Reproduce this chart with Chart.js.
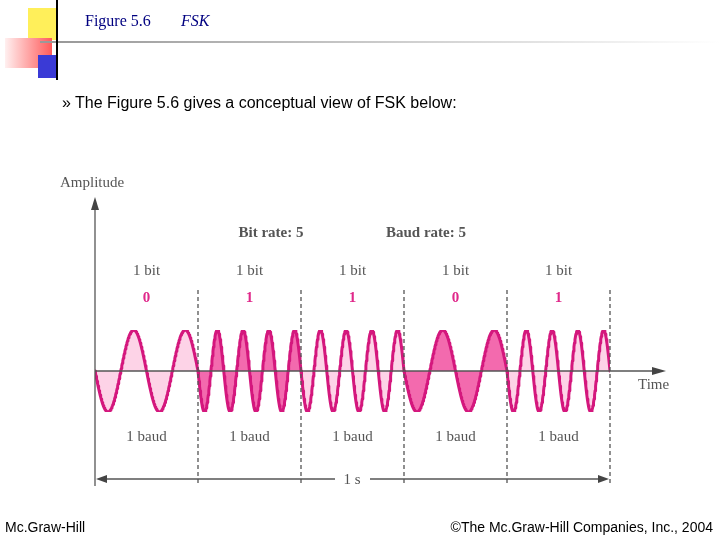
<!DOCTYPE html>
<html><head><meta charset="utf-8">
<script src="https://cdn.jsdelivr.net/npm/chart.js"></script>
<style>
body{margin:0;width:720px;height:540px;position:relative;background:#fff;overflow:hidden;font-family:"Liberation Sans",Arial,sans-serif}
.t{position:absolute;white-space:nowrap}
#c{position:absolute;left:0;top:0}
</style></head><body>
<canvas id="c" width="720" height="540"></canvas>
<div class="t" style="left:85px;top:12px;font:16px 'Liberation Serif';color:#000080">Figure 5.6</div>
<div class="t" style="left:181px;top:12px;font:italic 16px 'Liberation Serif';color:#000080">FSK</div>
<div class="t" style="left:62px;top:94px;font-size:16px">» The Figure 5.6 gives a conceptual view of FSK below:</div>
<div class="t" style="left:5px;top:519px;font-size:14px">Mc.Graw-Hill</div>
<div class="t" style="right:7px;top:519px;font-size:14px">©The Mc.Graw-Hill Companies, Inc., 2004</div>
<script>
const bits = [0, 1, 1, 0, 1];
const cyclesForBit = [2, 4];
const bitLabels = ['1 bit', '1 bit', '1 bit', '1 bit', '1 bit'];
const baudLabels = ['1 baud', '1 baud', '1 baud', '1 baud', '1 baud'];
const fills = ['#fdd3e7', '#f36aae'];
const lineColor = '#d4177d';
const samplesPerBaud = 200;

// build one carrier trace per baud from the bit it carries
const datasets = bits.map((b, i) => {
  const cyc = cyclesForBit[b];
  const pts = [];
  for (let k = 0; k <= samplesPerBaud; k++) {
    const u = k / samplesPerBaud;
    pts.push({ x: (i + u) / bits.length, y: -Math.sin(2 * Math.PI * cyc * u) });
  }
  return {
    data: pts, borderColor: lineColor, borderWidth: 3, pointRadius: 0,
    backgroundColor: fills[i % 2], fill: 'origin', tension: 0,
    borderJoinStyle: 'round', borderCapStyle: 'round'
  };
});

const deco = {
  id: 'deco',
  beforeDraw(chart) {
    const c = chart.ctx;
    c.save();
    c.fillStyle = '#ffef5a'; c.fillRect(28, 8, 30, 32);
    let g = c.createLinearGradient(5, 0, 52, 0);
    g.addColorStop(0, '#fff0f0'); g.addColorStop(1, '#ff5a5a');
    c.fillStyle = g; c.fillRect(5, 38, 47, 30);
    c.fillStyle = '#3a3ad6'; c.fillRect(38, 55, 20, 23);
    g = c.createLinearGradient(58, 0, 720, 0);
    g.addColorStop(0, '#999'); g.addColorStop(1, '#fff');
    c.fillStyle = g; c.fillRect(40, 41, 680, 2);
    c.fillStyle = '#000'; c.fillRect(56, 0, 2, 80);
    c.restore();
  },
  afterDatasetsDraw(chart) {
    const c = chart.ctx, xs = chart.scales.x, ys = chart.scales.y;
    const y0 = ys.getPixelForValue(0), n = bits.length;
    c.save();
    c.strokeStyle = '#555'; c.fillStyle = '#444'; c.lineWidth = 1.3;
    c.setLineDash([4, 3]);
    for (let i = 1; i <= n; i++) {
      const x = xs.getPixelForValue(i / n);
      c.beginPath(); c.moveTo(x, 290); c.lineTo(x, 486); c.stroke();
    }
    c.setLineDash([]);
    const x0 = xs.getPixelForValue(0), x1 = xs.getPixelForValue(1);
    c.beginPath(); c.moveTo(x0, 486); c.lineTo(x0, 205); c.stroke();
    c.beginPath(); c.moveTo(x0, 197); c.lineTo(x0 - 4, 210); c.lineTo(x0 + 4, 210); c.fill();
    c.beginPath(); c.moveTo(x0, y0); c.lineTo(658, y0); c.stroke();
    c.beginPath(); c.moveTo(666, y0); c.lineTo(652, y0 - 4); c.lineTo(652, y0 + 4); c.fill();
    const yb = 479;
    c.beginPath(); c.moveTo(x0 + 8, yb); c.lineTo(335, yb); c.moveTo(370, yb); c.lineTo(x1 - 8, yb); c.stroke();
    c.beginPath(); c.moveTo(x0 + 1, yb); c.lineTo(x0 + 12, yb - 4); c.lineTo(x0 + 12, yb + 4); c.fill();
    c.beginPath(); c.moveTo(x1 - 1, yb); c.lineTo(x1 - 12, yb - 4); c.lineTo(x1 - 12, yb + 4); c.fill();
    c.fillStyle = '#555'; c.textBaseline = 'middle'; c.textAlign = 'left';
    c.font = '15px "Liberation Serif"';
    c.fillText('Amplitude', 60, 183);
    c.fillText('Time', 638, 385);
    c.textAlign = 'center';
    c.fillText('1 s', 352, 480);
    c.font = 'bold 15px "Liberation Serif"';
    c.fillText('Bit rate: 5', 271, 233);
    c.fillText('Baud rate: 5', 426, 233);
    for (let i = 0; i < n; i++) {
      const xm = xs.getPixelForValue((i + 0.5) / n);
      c.fillStyle = '#555'; c.font = '15px "Liberation Serif"';
      c.fillText(bitLabels[i], xm, 271);
      c.fillText(baudLabels[i], xm, 437);
      c.fillStyle = '#e0288a'; c.font = 'bold 15px "Liberation Serif"';
      c.fillText(String(bits[i]), xm, 298);
    }
    c.restore();
  }
};

new Chart(document.getElementById('c'), {
  type: 'line',
  data: { datasets },
  options: {
    responsive: false, animation: false,
    layout: { padding: { left: 95, right: 110, top: 330, bottom: 128 } },
    plugins: { legend: { display: false }, tooltip: { enabled: false } },
    scales: {
      x: { type: 'linear', min: 0, max: 1, display: false },
      y: { min: -1, max: 1, display: false }
    }
  },
  plugins: [deco]
});
</script>
</body></html>
